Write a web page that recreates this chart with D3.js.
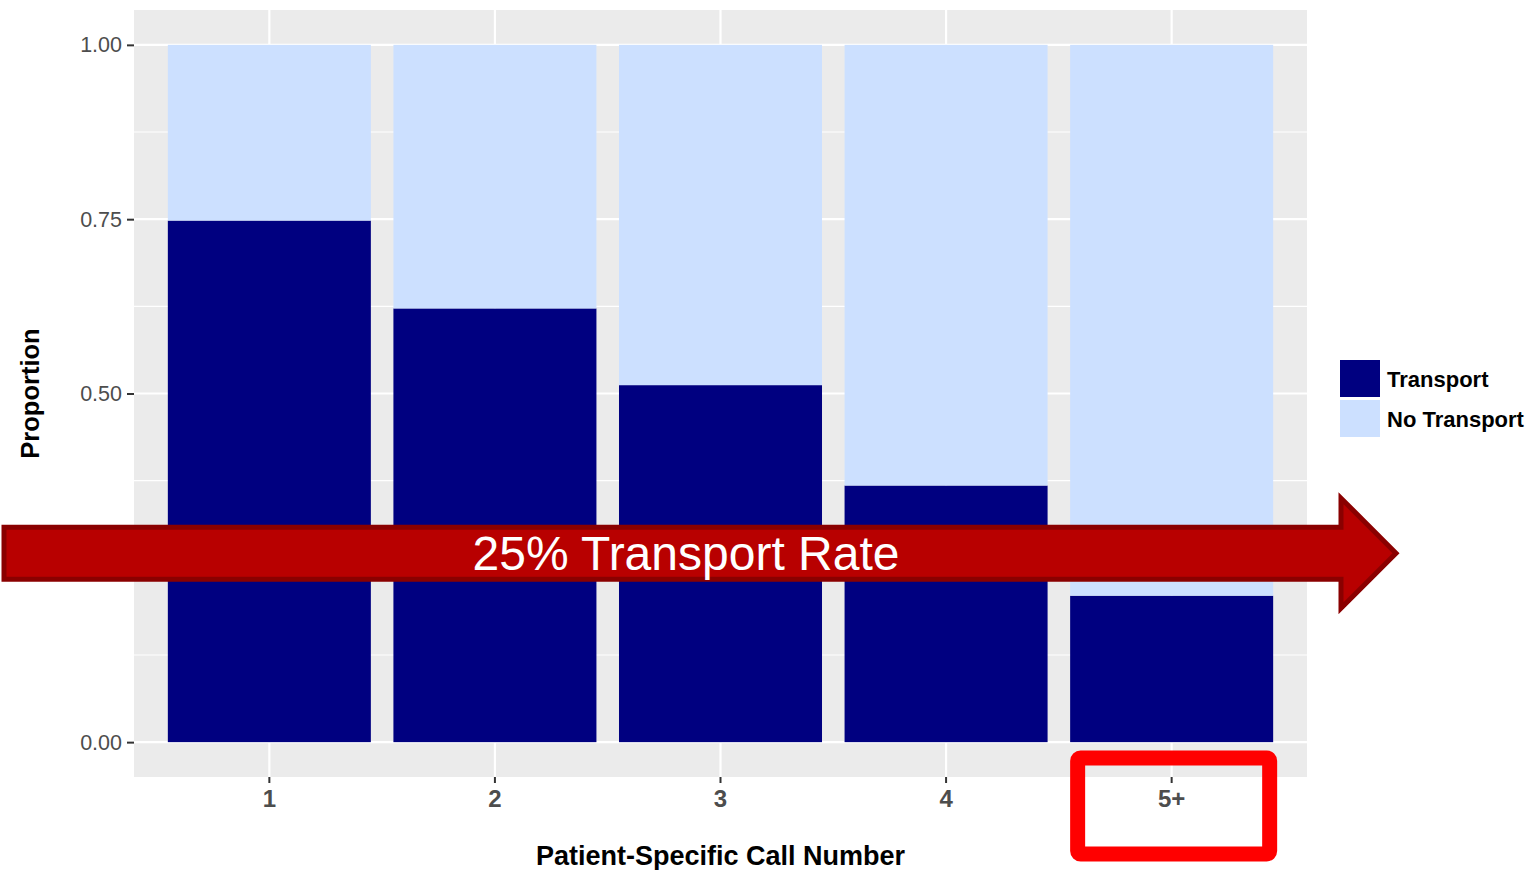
<!DOCTYPE html>
<html>
<head>
<meta charset="utf-8">
<script src="https://cdn.jsdelivr.net/npm/d3@7"></script>
<style>
  body { margin: 0; background: #fff; }
  svg { display: block; font-family: 'Liberation Sans', Arial, sans-serif; }
</style>
</head>
<body>
<svg id="chart" width="1532" height="870"></svg>
<script>
// data
const categories = ['1', '2', '3', '4', '5+'];
const transport = [0.748, 0.622, 0.512, 0.368, 0.210];
const noTransport = transport.map(v => 1 - v);
const yTicks = [0, 0.25, 0.5, 0.75, 1];
const yMinor = [0.125, 0.375, 0.625, 0.875];
const legendLabels = ['Transport', 'No Transport'];
const arrowLabel = '25% Transport Rate';
const highlightCat = '5+';

const COLORS = { Transport: '#000080', 'No Transport': '#cce0ff' };

const svg = d3.select('#chart');
const panel = { x0: 134, x1: 1307, y0: 10, y1: 777 };

const x = d3.scaleBand().domain(categories)
  .range([panel.x0, panel.x1]).paddingInner(0.1).paddingOuter(0.15);
const y = d3.scaleLinear().domain([-0.05, 1.05]).range([panel.y1, panel.y0]);

// panel background
svg.append('rect')
  .attr('x', panel.x0).attr('y', panel.y0)
  .attr('width', panel.x1 - panel.x0).attr('height', panel.y1 - panel.y0)
  .attr('fill', '#ebebeb');

// grid
const grid = svg.append('g');
grid.selectAll('.minor').data(yMinor).join('line')
  .attr('x1', panel.x0).attr('x2', panel.x1)
  .attr('y1', d => y(d)).attr('y2', d => y(d))
  .attr('stroke', '#fff').attr('stroke-width', 1.1);
grid.selectAll('.major').data(yTicks).join('line')
  .attr('x1', panel.x0).attr('x2', panel.x1)
  .attr('y1', d => y(d)).attr('y2', d => y(d))
  .attr('stroke', '#fff').attr('stroke-width', 2.2);
grid.selectAll('.vmajor').data(categories).join('line')
  .attr('x1', d => x(d) + x.bandwidth() / 2).attr('x2', d => x(d) + x.bandwidth() / 2)
  .attr('y1', panel.y0).attr('y2', panel.y1)
  .attr('stroke', '#fff').attr('stroke-width', 2.2);

// stacked bars
const rows = categories.map((c, i) => ({ cat: c, Transport: transport[i], 'No Transport': noTransport[i] }));
const stack = d3.stack().keys(legendLabels)(rows);
svg.append('g').selectAll('g').data(stack).join('g')
  .attr('fill', d => COLORS[d.key])
  .selectAll('rect').data(d => d).join('rect')
  .attr('x', d => x(d.data.cat))
  .attr('width', x.bandwidth())
  .attr('y', d => y(d[1]))
  .attr('height', d => y(d[0]) - y(d[1]));

// y axis
const yAxis = svg.append('g')
  .attr('transform', `translate(${panel.x0},0)`)
  .call(d3.axisLeft(y).tickValues(yTicks).tickFormat(d3.format('.2f')).tickSize(7).tickPadding(5));
yAxis.select('.domain').remove();
yAxis.selectAll('line').attr('stroke', '#333').attr('stroke-width', 2);
yAxis.selectAll('text').attr('fill', '#4d4d4d').attr('font-size', 21.5);

// x axis
const xAxis = svg.append('g')
  .attr('transform', `translate(0,${panel.y1})`)
  .call(d3.axisBottom(x).tickSize(6).tickPadding(7));
xAxis.select('.domain').remove();
xAxis.selectAll('line').attr('stroke', '#333').attr('stroke-width', 2);
xAxis.selectAll('text').attr('fill', '#4d4d4d').attr('font-size', 24).attr('font-weight', 'bold');

// axis titles
svg.append('text')
  .attr('x', (panel.x0 + panel.x1) / 2).attr('y', 865)
  .attr('text-anchor', 'middle').attr('font-size', 27).attr('font-weight', 'bold')
  .text('Patient-Specific Call Number');
svg.append('text')
  .attr('transform', `translate(39,${y(0.5)}) rotate(-90)`)
  .attr('text-anchor', 'middle').attr('font-size', 25.5).attr('font-weight', 'bold')
  .text('Proportion');

// legend
const legend = svg.append('g').attr('transform', 'translate(1340,360)');
legend.selectAll('rect').data(legendLabels).join('rect')
  .attr('x', 0).attr('y', (d, i) => i * 40)
  .attr('width', 40).attr('height', 37)
  .attr('fill', d => COLORS[d]);
legend.selectAll('text').data(legendLabels).join('text')
  .attr('x', 47).attr('y', (d, i) => i * 40 + 19)
  .attr('dy', '0.35em').attr('font-size', 22).attr('font-weight', 'bold')
  .text(d => d);

// arrow annotation
const aY = y(0.271);
const bodyH = 52, headH = 110, tipX = 1396, headX = 1341;
const arrowPts = [
  [4, aY - bodyH / 2], [headX, aY - bodyH / 2], [headX, aY - headH / 2],
  [tipX, aY], [headX, aY + headH / 2], [headX, aY + bodyH / 2], [4, aY + bodyH / 2]
];
svg.append('path')
  .attr('d', d3.line()(arrowPts) + 'Z')
  .attr('fill', '#b80000').attr('stroke', '#8a0000').attr('stroke-width', 5)
  .attr('stroke-linejoin', 'miter');
svg.append('text')
  .attr('x', 686).attr('y', aY).attr('dy', '0.36em')
  .attr('text-anchor', 'middle').attr('fill', '#fff').attr('font-size', 48)
  .text(arrowLabel);

// highlight box around the 5+ label
const hx = x(highlightCat);
svg.append('rect')
  .attr('x', hx + 7.5).attr('y', 758)
  .attr('width', x.bandwidth() - 11).attr('height', 96)
  .attr('rx', 3)
  .attr('fill', 'none').attr('stroke', '#ff0000').attr('stroke-width', 15);
</script>
</body>
</html>
